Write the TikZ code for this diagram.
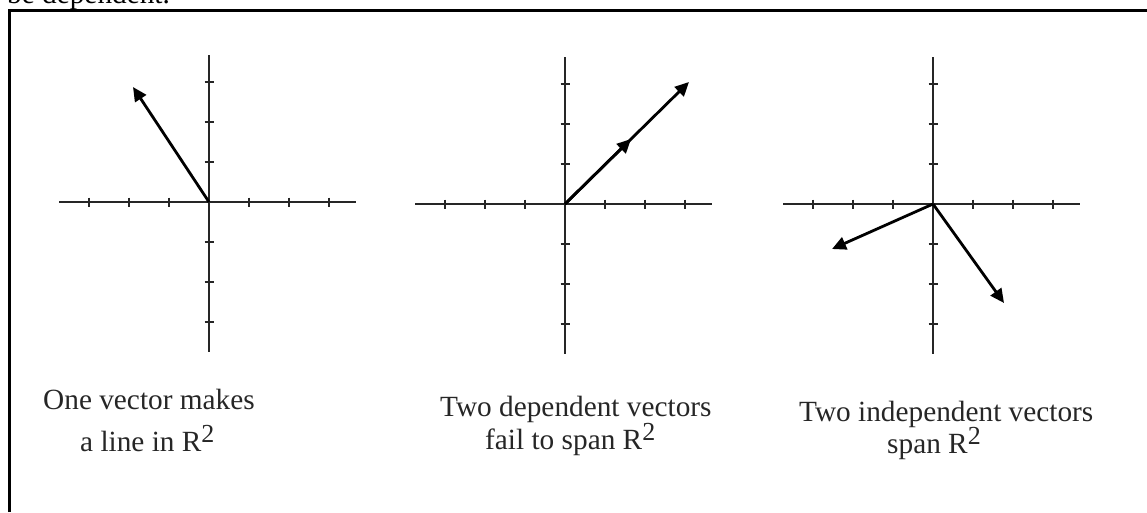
\documentclass[tikz,border=0pt]{standalone}
\usepackage{fontspec}
\setmainfont{Liberation Serif}
\usetikzlibrary{arrows.meta,calc}
\newcommand\RtwoSup{\raisebox{9pt}{\fontsize{26}{26}\selectfont 2}}
\newcommand\plotaxes[1]{%
  \draw[axis] ($(#1)+(-150,0)$) -- ($(#1)+(147,0)$);
  \draw[axis] ($(#1)+(0,-147)$) -- ($(#1)+(0,150)$);
  \foreach \t in {-120,-80,-40,40,80,120}{
    \draw[tickmark] ($(#1)+(\t,-4.5)$) -- ($(#1)+(\t,4.5)$);
    \draw[tickmark] ($(#1)+(-4.5,\t)$) -- ($(#1)+(4.5,\t)$);
  }%
}
\begin{document}
\begin{tikzpicture}[x=1pt,y=-1pt,
  axis/.style={line width=2pt,black!85},
  tickmark/.style={line width=1.8pt,black!85},
  vec/.style={line width=2.8pt,-{Triangle[length=14pt,width=13pt]}},
  lbl/.style={anchor=base west,inner sep=0pt,text=black!85,font=\fontsize{29.3}{30}\selectfont}]
\useasboundingbox (0,0) rectangle (1147,512);
\clip (0,0) rectangle (1147,512);
\node[lbl,text=black] (top) at (7,3) {be dependent.};
\draw[line width=3pt] (9.5,512) -- (9.5,10.5) -- (1147,10.5);
% plot 1
\coordinate (o1) at (209,202);
\plotaxes{o1}
\coordinate (v1) at (133,87);
\draw[vec] (o1) -- (v1);
% plot 2
\coordinate (o2) at (565,204);
\plotaxes{o2}
\coordinate (v2a) at (689,82);
\coordinate (v2b) at (631,139);
\draw[vec] (o2) -- (v2a);
\draw[vec] (o2) -- (v2b);
% plot 3
\coordinate (o3) at (933,204);
\plotaxes{o3}
\coordinate (v3a) at (832,249);
\coordinate (v3b) at (1004,303);
\draw[vec] (o3) -- (v3a);
\draw[vec] (o3) -- (v3b);
% labels
\node[lbl] (l1a) at (43,409) {One vector makes};
\node[lbl] (l1b) at (80,451) {a line in R\RtwoSup};
\node[lbl] (l2a) at (440,416) {Two dependent vectors};
\node[lbl] (l2b) at (485,449) {fail to span R\RtwoSup};
\node[lbl] (l3a) at (799,421) {Two independent vectors};
\node[lbl] (l3b) at (887,453) {span R\RtwoSup};
\end{tikzpicture}
\end{document}
